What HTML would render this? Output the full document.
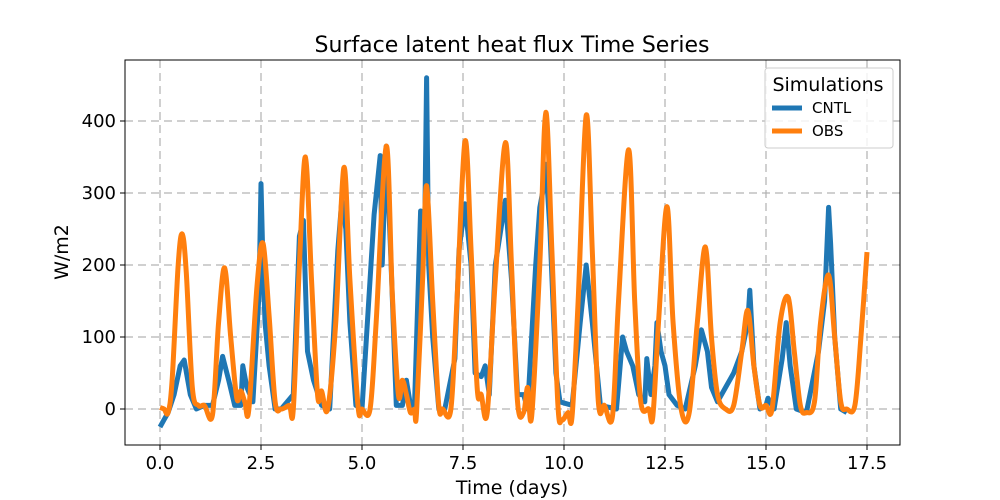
<!DOCTYPE html>
<html><head><meta charset="utf-8"><style>
body{margin:0;background:#fff}
svg{display:block;font-family:"DejaVu Sans","Liberation Sans",sans-serif}
</style></head><body>
<svg id="chart" width="1000" height="500">
<rect width="1000" height="500" fill="#fff"/>
<g id="grid"></g><g id="series"></g><g id="axes"></g>
<text x="512" y="52" font-size="22" text-anchor="middle">Surface latent heat flux Time Series</text>
<text x="512" y="494" font-size="19" text-anchor="middle">Time (days)</text>
<text transform="translate(68,252) rotate(-90)" font-size="19" text-anchor="middle">W/m2</text>
<g>
<rect x="765" y="68" width="128" height="80" rx="3" fill="#fff" fill-opacity="0.8" stroke="#ccc"/>
<text x="828" y="91" font-size="19" text-anchor="middle">Simulations</text>
<g><line x1="772" y1="108" x2="802" y2="108" stroke="#1f77b4" stroke-width="5"/><text x="812" y="113" font-size="15">CNTL</text></g>
<g><line x1="772" y1="131" x2="802" y2="131" stroke="#ff7f0e" stroke-width="5"/><text x="812" y="136" font-size="15">OBS</text></g>
</g>
</svg>
<script>
const xTicks=[0,2.5,5,7.5,10,12.5,15,17.5];
const xTickLabels=["0.0","2.5","5.0","7.5","10.0","12.5","15.0","17.5"];
const yTicks=[0,100,200,300,400];
const yTickLabels=["0","100","200","300","400"];
const obsT=[0,0.1,0.2,0.3,0.45,0.55,0.65,0.8,0.95,1.1,1.3,1.45,1.6,1.75,1.9,2.0,2.1,2.2,2.4,2.55,2.7,2.85,3.0,3.2,3.3,3.45,3.6,3.75,3.9,4.0,4.15,4.35,4.55,4.7,4.9,5.0,5.2,5.35,5.6,5.75,5.9,6.0,6.1,6.2,6.3,6.35,6.5,6.6,6.75,6.9,7.0,7.2,7.35,7.55,7.7,7.85,7.95,8.1,8.3,8.55,8.7,8.85,9.0,9.1,9.2,9.4,9.55,9.7,9.85,9.95,10.1,10.2,10.35,10.55,10.7,10.85,11.0,11.2,11.35,11.6,11.75,11.9,12.1,12.2,12.35,12.55,12.7,12.9,13.1,13.3,13.5,13.65,13.8,14.0,14.2,14.4,14.55,14.7,14.85,15.0,15.15,15.35,15.55,15.7,15.85,16.0,16.2,16.35,16.55,16.7,16.85,17.0,17.2,17.35,17.5];
const obsV=[2,0,-5,40,200,243,190,30,5,5,-8,120,196,100,15,25,10,0,170,230,130,10,0,5,0,200,350,180,20,25,0,120,335,180,5,0,0,120,365,160,20,40,20,-5,0,-5,180,310,150,5,0,0,150,372,220,30,20,-5,180,370,200,10,-5,30,-10,200,412,220,5,-15,-5,-10,150,408,220,10,5,-10,150,360,150,10,0,-10,130,281,120,0,-5,120,225,100,20,0,5,80,137,60,5,5,0,120,155,80,5,-5,10,120,186,100,10,0,5,100,218];
const cntlT=[0,0.1,0.2,0.35,0.5,0.6,0.75,0.9,1.1,1.3,1.45,1.55,1.7,1.85,2.0,2.05,2.15,2.3,2.45,2.5,2.55,2.6,2.7,2.85,3.0,3.3,3.45,3.55,3.65,3.8,4.0,4.2,4.4,4.5,4.6,4.7,4.85,5.0,5.3,5.45,5.5,5.6,5.7,5.85,6.0,6.1,6.2,6.3,6.45,6.55,6.6,6.65,6.75,6.9,7.05,7.3,7.4,7.55,7.7,7.8,7.95,8.05,8.15,8.3,8.55,8.7,8.85,9.0,9.1,9.3,9.4,9.5,9.55,9.65,9.8,9.9,10.2,10.4,10.55,10.7,10.9,11.3,11.45,11.55,11.7,11.85,12.0,12.05,12.15,12.25,12.3,12.4,12.5,12.6,12.8,13.0,13.25,13.4,13.55,13.65,13.8,14.0,14.2,14.4,14.55,14.6,14.7,14.85,15.0,15.05,15.2,15.4,15.5,15.6,15.75,16.0,16.3,16.45,16.55,16.6,16.7,16.85,17.0];
const cntlV=[-25,-15,-5,20,60,68,20,0,5,5,40,73,40,5,5,60,30,10,160,313,200,120,60,0,0,20,240,262,80,40,5,0,220,290,250,120,5,0,270,352,200,365,230,5,5,40,5,5,275,240,460,200,100,0,0,70,220,285,200,50,45,60,20,200,290,180,20,20,0,200,280,310,340,250,50,10,5,120,200,120,5,0,100,80,60,20,10,70,20,60,120,80,60,20,5,0,60,110,80,30,10,30,50,80,120,165,60,0,5,15,0,70,120,60,0,-5,80,150,280,230,100,0,-5];
const L=125,R=900,T=60,B=445;
const X=t=>160+t*(707/17.5);
const Y=v=>409-v*0.72;
const NS="http://www.w3.org/2000/svg";
function mk(tag,attrs,parent){const e=document.createElementNS(NS,tag);for(const k in attrs)e.setAttribute(k,attrs[k]);parent.appendChild(e);return e;}
const grid=document.getElementById('grid'),axes=document.getElementById('axes'),ser=document.getElementById('series');
xTicks.forEach((t,i)=>{
 const g=mk('line',{x1:X(t),x2:X(t),y1:T,y2:B,stroke:'#b0b0b0','stroke-width':2,'stroke-dasharray':'8,5','stroke-opacity':0.6},grid);
 
 
 mk('line',{x1:X(t),x2:X(t),y1:B,y2:B+5,stroke:'#000'},axes);
 const tx=mk('text',{x:X(t),y:B+24,'font-size':18,'text-anchor':'middle'},axes);tx.textContent=xTickLabels[i];
 
 
});
yTicks.forEach((v,i)=>{
 const g=mk('line',{x1:L,x2:R,y1:Y(v),y2:Y(v),stroke:'#b0b0b0','stroke-width':2,'stroke-dasharray':'8,5','stroke-opacity':0.6},grid);
 
 
 mk('line',{x1:L-5,x2:L,y1:Y(v),y2:Y(v),stroke:'#000'},axes);
 const tx=mk('text',{x:L-9,y:Y(v)+6,'font-size':18,'text-anchor':'end'},axes);tx.textContent=yTickLabels[i];
 
 
});
const frame=mk('rect',{x:L,y:T,width:R-L,height:B-T,fill:'none',stroke:'#000','stroke-width':1},axes);


function poly(ts,vs){return ts.map((t,i)=>X(t).toFixed(1)+','+Y(vs[i]).toFixed(1)).join(' ');}
function smooth(ts,vs){const p=ts.map((t,i)=>[X(t),Y(vs[i])]);let d='M'+p[0][0]+','+p[0][1];
 for(let i=0;i<p.length-1;i++){const p0=p[Math.max(0,i-1)],p1=p[i],p2=p[i+1],p3=p[Math.min(p.length-1,i+2)];
 d+=' C'+(p1[0]+(p2[0]-p0[0])/6)+','+(p1[1]+(p2[1]-p0[1])/6)+' '+(p2[0]-(p3[0]-p1[0])/6)+','+(p2[1]-(p3[1]-p1[1])/6)+' '+p2[0]+','+p2[1];}return d;}
const c=mk('polyline',{points:poly(cntlT,cntlV),fill:'none',stroke:'#1f77b4','stroke-width':5,'stroke-linejoin':'round'},ser);


const o=mk('path',{d:smooth(obsT,obsV),fill:'none',stroke:'#ff7f0e','stroke-width':5,'stroke-linejoin':'round'},ser);


</script>
</body></html>
